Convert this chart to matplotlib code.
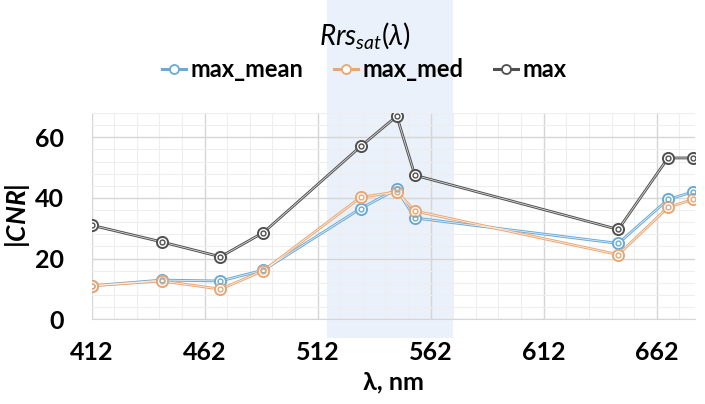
#!/usr/bin/env python3
"""|CNR| vs wavelength for the three Rrs_sat statistics."""
import matplotlib
matplotlib.use("Agg")
import matplotlib.pyplot as plt
import matplotlib.transforms as mtransforms
from matplotlib.lines import Line2D
from matplotlib.patches import Rectangle
from matplotlib.ticker import MultipleLocator, FixedLocator

wavelengths = [412, 443, 469, 488, 531, 547, 555, 645, 667, 678]
max_mean = [11.0, 12.9, 12.6, 16.2, 36.5, 42.9, 33.4, 25.0, 39.5, 42.0]
max_med = [11.0, 12.6, 9.9, 16.0, 40.2, 42.0, 35.7, 21.3, 36.9, 39.5]
max_all = [31.0, 25.5, 20.6, 28.6, 57.0, 67.0, 47.5, 29.6, 53.2, 53.2]
series_names = ["max_mean", "max_med", "max"]
x_ticks = [412, 462, 512, 562, 612, 662]
y_ticks = [0, 20, 40, 60]
band = (516, 572)

colors = ["#6aaad6", "#e8a774", "#505050"]

plt.rcParams["font.family"] = ["Lato", "DejaVu Sans"]
plt.rcParams["mathtext.fontset"] = "custom"
plt.rcParams["mathtext.it"] = "Lato:italic"
plt.rcParams["mathtext.bf"] = "Lato:bold"
plt.rcParams["mathtext.bfit"] = "Lato:italic:bold"
plt.rcParams["mathtext.rm"] = "Lato"

fig = plt.figure(figsize=(7.05, 4.04), dpi=100)
ax = fig.add_axes([0.130, 0.210, 0.856, 0.510])
ax.set_facecolor("none")

# shaded band runs past the axes, like the original
trans = mtransforms.blended_transform_factory(ax.transData, fig.transFigure)
fig.patches.append(Rectangle((band[0], 0.163), band[1] - band[0], 0.837,
                             transform=trans, facecolor="#eaf1fa", edgecolor="none", zorder=-5))

for vals, c in zip([max_mean, max_med, max_all], colors):
    ax.plot(wavelengths, vals, color=c, lw=2.0, zorder=3)
    ax.plot(wavelengths, vals, color="white", lw=0.6, alpha=0.8, zorder=4)
    ax.plot(wavelengths, vals, ls="none", marker="o", ms=8, mfc="white", mec=c, mew=1.4, zorder=5)
    ax.plot(wavelengths, vals, ls="none", marker="o", ms=3.5, mfc="none", mec=c, mew=1.0, zorder=6)

ax.set_xlim(412, 679)
ax.set_ylim(0, 68)
ax.xaxis.set_major_locator(FixedLocator(x_ticks))
ax.xaxis.set_minor_locator(FixedLocator(list(range(422, 680, 10))))
ax.yaxis.set_major_locator(FixedLocator(y_ticks))
ax.yaxis.set_minor_locator(MultipleLocator(4))
ax.grid(which="major", color="#d6d6d6", lw=1.0)
ax.grid(which="minor", color="#eeeeee", lw=0.8)
ax.set_axisbelow(True)
for s in ax.spines.values():
    s.set_visible(False)
ax.spines["bottom"].set_visible(True)
ax.spines["bottom"].set_color("#d6d6d6")
ax.tick_params(which="both", length=0)
ax.tick_params(axis="x", labelsize=18, pad=16)
ax.tick_params(axis="y", labelsize=18, pad=20)
for lab in ax.get_xticklabels() + ax.get_yticklabels():
    lab.set_fontweight("bold")

ax.set_xlabel("λ, nm", fontsize=18, fontweight="bold", labelpad=4)
ax.set_ylabel(r"|$\mathbfit{CNR}$|", fontsize=19, fontweight="bold", labelpad=2)

fig.text(0.517, 0.913, r"$\mathit{Rrs_{sat}(\lambda)}$", ha="center", va="center", fontsize=20)

handles = [Line2D([0], [0], color=c, lw=2.2, marker="o", ms=6.5, mfc="white", mec=c, mew=1.3)
           for c in colors]
leg = fig.legend(handles, series_names, loc="center", bbox_to_anchor=(0.517, 0.827), ncol=3,
                 frameon=False, prop={"size": 17, "weight": "bold"}, handlelength=1.0,
                 handletextpad=0.2, columnspacing=1.3)

fig.savefig("out.png", dpi=100)
